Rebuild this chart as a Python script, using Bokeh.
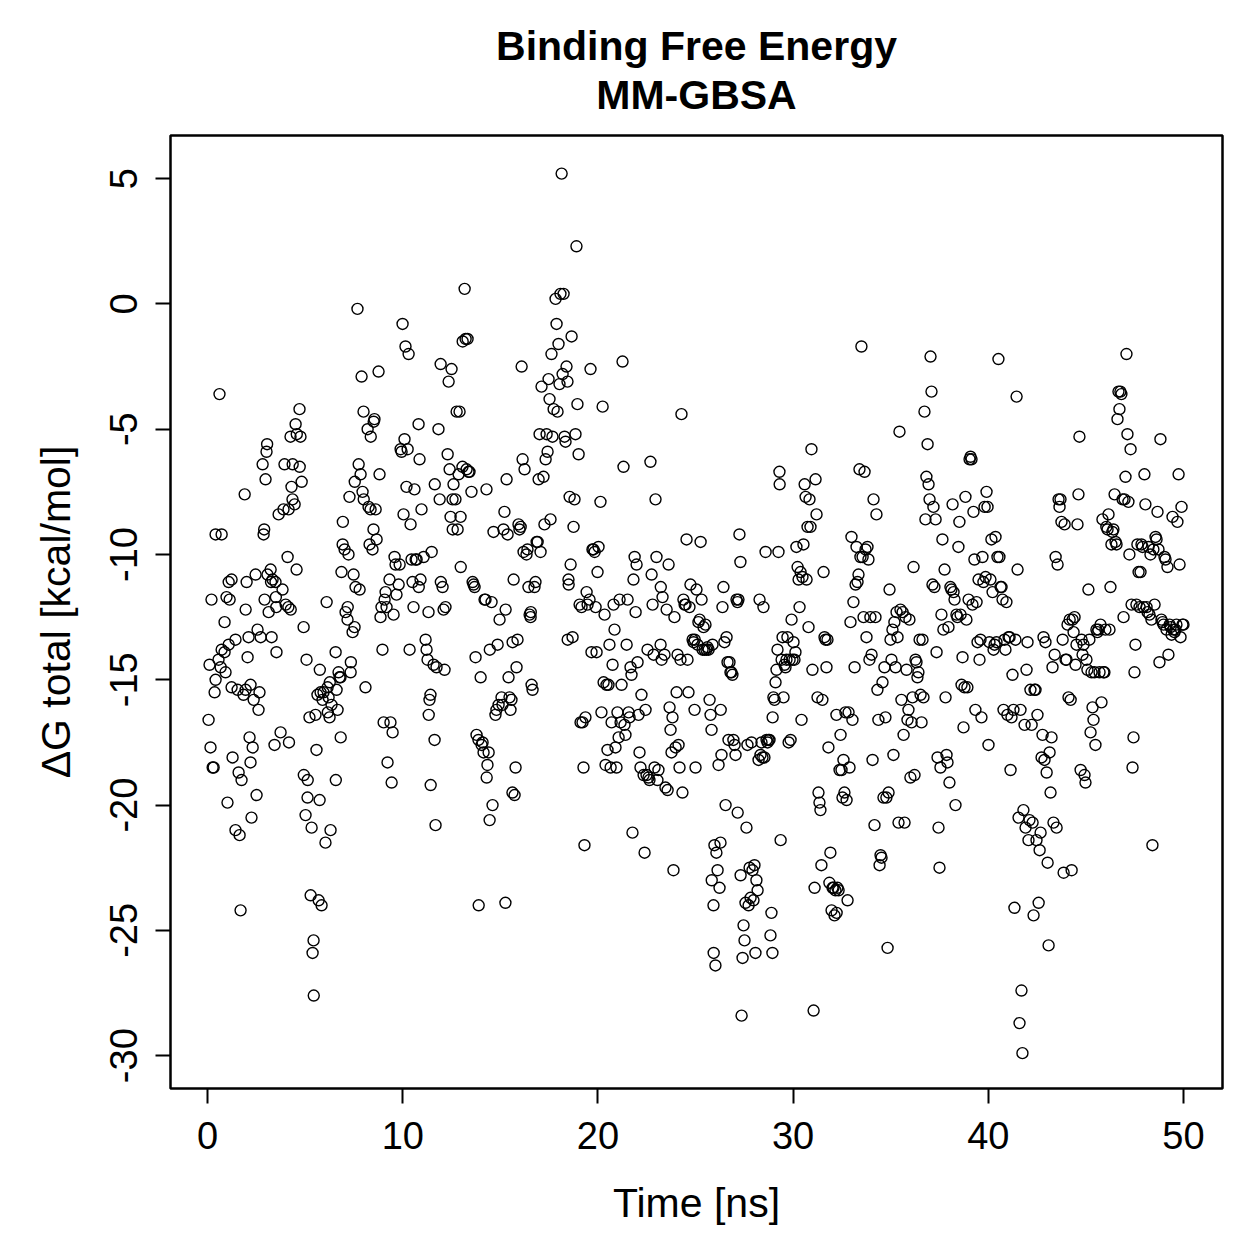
from bokeh.plotting import figure
from bokeh.models import ColumnDataSource, FixedTicker, Title
from bokeh.embed import file_html
from bokeh.resources import INLINE

# MM-GBSA binding free energy per frame: (time [ns], dG total [kcal/mol])
frames_00_05 = [
    (0.05, -16.6), (0.10, -14.4), (0.15, -17.7), (0.20, -11.8), (0.26, -18.5), (0.31, -18.5),
    (0.36, -15.5), (0.41, -9.2), (0.41, -15.0), (0.56, -14.2), (0.61, -3.6), (0.67, -14.5),
    (0.72, -9.2), (0.72, -13.8), (0.87, -13.9), (0.87, -12.7), (0.92, -14.7), (0.97, -11.7),
    (1.02, -19.9), (1.08, -11.1), (1.08, -13.6), (1.13, -11.8), (1.23, -11.0), (1.23, -15.3),
    (1.28, -18.1), (1.43, -13.4), (1.43, -21.0), (1.54, -15.4), (1.59, -18.7), (1.64, -21.2),
    (1.69, -24.2), (1.74, -19.0), (1.84, -15.6), (1.90, -7.6), (1.95, -15.4), (1.95, -12.2),
    (2.00, -11.1), (2.05, -14.1), (2.10, -13.3), (2.15, -17.3), (2.20, -15.2), (2.20, -18.3),
    (2.25, -20.5), (2.31, -17.7), (2.36, -15.8), (2.46, -10.8), (2.51, -19.6), (2.56, -13.0),
    (2.61, -16.2), (2.66, -15.5),
    (2.72, -13.3), (2.82, -6.4), (2.87, -9.2), (2.90, -9.0), (2.92, -11.8), (2.97, -7.0),
    (3.02, -5.9), (3.05, -5.6), (3.07, -10.8), (3.13, -12.3), (3.23, -10.6), (3.25, -11.1),
    (3.28, -13.3), (3.33, -11.0), (3.43, -17.6), (3.48, -11.1), (3.50, -11.7), (3.52, -12.1),
    (3.53, -13.9), (3.64, -8.4), (3.74, -17.1), (3.84, -11.4), (3.89, -8.2), (3.94, -6.4),
    (4.00, -12.0), (4.10, -10.1), (4.14, -12.1), (4.15, -8.2), (4.17, -17.5), (4.25, -5.3),
    (4.26, -12.2), (4.30, -7.3), (4.35, -7.8), (4.36, -6.4), (4.46, -8.0), (4.51, -4.8),
    (4.56, -10.6), (4.57, -5.2), (4.71, -4.2), (4.72, -6.5), (4.76, -5.3), (4.82, -7.1),
    (4.92, -12.9), (4.93, -18.8),
]

frames_05_10 = [
    (5.02, -20.4), (5.07, -14.2), (5.12, -19.7), (5.13, -19.0), (5.22, -16.5), (5.28, -23.6),
    (5.33, -20.9), (5.38, -25.9), (5.43, -25.4), (5.44, -27.6), (5.53, -16.4), (5.58, -17.8),
    (5.63, -15.6), (5.69, -23.8), (5.74, -19.8), (5.75, -14.6), (5.79, -15.5), (5.84, -24.0),
    (5.89, -15.8), (5.94, -15.5), (6.04, -21.5), (6.10, -11.9), (6.15, -15.3), (6.16, -16.3),
    (6.20, -15.7), (6.25, -16.5), (6.26, -15.1), (6.30, -21.0), (6.35, -16.0), (6.56, -13.9),
    (6.57, -19.0), (6.61, -15.4), (6.66, -16.2), (6.71, -14.7), (6.76, -14.9), (6.81, -14.9),
    (6.82, -17.3), (6.86, -10.7), (6.92, -9.6), (6.93, -8.7), (7.02, -9.8), (7.07, -12.3),
    (7.17, -12.6), (7.18, -12.1), (7.22, -10.0), (7.27, -7.7), (7.33, -14.7), (7.34, -14.3),
    (7.43, -13.1), (7.48, -10.8), (7.53, -12.9),
    (7.54, -7.1), (7.58, -11.3), (7.68, -0.2), (7.74, -6.4), (7.79, -11.4), (7.84, -6.8),
    (7.89, -2.9), (7.94, -7.5), (7.99, -4.3), (8.00, -7.8), (8.09, -15.3), (8.20, -5.0),
    (8.25, -8.1), (8.30, -9.6), (8.35, -8.2), (8.36, -5.3), (8.45, -9.8), (8.50, -9.0),
    (8.51, -4.7), (8.55, -4.6), (8.61, -8.2), (8.66, -9.4), (8.76, -2.7), (8.81, -6.8),
    (8.86, -12.5), (8.91, -12.1), (8.96, -13.8), (9.02, -16.7), (9.07, -11.8), (9.12, -11.5),
    (9.17, -12.1), (9.22, -18.3), (9.32, -11.0), (9.37, -16.7), (9.43, -19.1), (9.48, -17.1),
    (9.53, -12.4), (9.58, -10.1), (9.63, -10.4), (9.68, -11.6), (9.79, -11.2), (9.84, -10.4),
    (9.89, -5.8), (9.94, -5.9), (9.99, -0.8),
]

frames_10_15 = [
    (10.04, -8.4), (10.09, -5.4), (10.14, -1.7), (10.19, -7.3), (10.25, -5.8), (10.30, -2.0),
    (10.35, -13.8), (10.40, -8.8), (10.45, -10.2), (10.50, -11.1), (10.55, -12.1), (10.60, -7.4),
    (10.66, -10.2), (10.71, -10.2), (10.81, -4.8), (10.82, -11.3), (10.86, -6.2), (10.91, -11.0),
    (10.96, -8.2), (11.07, -10.1), (11.17, -13.4), (11.22, -13.8), (11.27, -14.2), (11.32, -12.3),
    (11.33, -16.4), (11.37, -15.8), (11.42, -15.6), (11.43, -19.2), (11.48, -9.9), (11.58, -14.4),
    (11.63, -17.4), (11.64, -7.2), (11.68, -20.8), (11.73, -14.5), (11.83, -5.0), (11.89, -7.8),
    (11.94, -2.4), (11.95, -11.1), (12.04, -11.3), (12.09, -12.2), (12.14, -14.6), (12.19, -12.1),
    (12.30, -6.0), (12.35, -3.1),
    (12.40, -6.6), (12.45, -8.5), (12.50, -2.6), (12.55, -7.8), (12.56, -9.0), (12.60, -7.2),
    (12.70, -7.8), (12.76, -4.3), (12.81, -9.0), (12.86, -6.8), (12.91, -4.3), (12.96, -8.5),
    (12.97, -10.5), (13.06, -6.5), (13.07, -1.5), (13.17, 0.6), (13.22, -1.4), (13.27, -6.6),
    (13.32, -1.4), (13.37, -6.7), (13.42, -6.7), (13.52, -7.5), (13.58, -11.1), (13.63, -11.2),
    (13.68, -11.3), (13.73, -14.1), (13.78, -17.2), (13.88, -17.4), (13.89, -24.0), (13.99, -14.9),
    (14.04, -17.6), (14.09, -17.5), (14.14, -17.9), (14.19, -11.8), (14.24, -11.8), (14.29, -7.4),
    (14.30, -18.9), (14.34, -18.4), (14.40, -17.9), (14.45, -20.6), (14.46, -13.8), (14.55, -11.9),
    (14.60, -20.0), (14.65, -9.1), (14.75, -16.4), (14.80, -16.2), (14.86, -13.6), (14.91, -16.0),
    (14.96, -12.6),
]

frames_15_20 = [
    (15.06, -15.7), (15.11, -16.0), (15.16, -9.0), (15.21, -8.3), (15.26, -23.9), (15.27, -12.2),
    (15.32, -7.0), (15.37, -9.2), (15.42, -14.9), (15.47, -15.7), (15.52, -16.2), (15.57, -15.8),
    (15.62, -19.5), (15.63, -13.5), (15.68, -11.0), (15.73, -19.6), (15.78, -18.5), (15.83, -14.5),
    (15.88, -13.4), (15.93, -8.8), (15.98, -9.0), (16.04, -8.9), (16.09, -2.5), (16.14, -6.2),
    (16.19, -9.9), (16.24, -6.6), (16.34, -10.0), (16.39, -9.8), (16.44, -11.3), (16.50, -12.4),
    (16.55, -12.5), (16.56, -12.3), (16.60, -15.2), (16.65, -15.4), (16.75, -11.3), (16.80, -11.1),
    (16.86, -9.5), (16.91, -9.5), (16.96, -7.0), (17.01, -5.2), (17.06, -9.9), (17.11, -3.3),
    (17.21, -6.9), (17.26, -8.8), (17.32, -6.2), (17.37, -5.2), (17.42, -5.9), (17.47, -3.0),
    (17.52, -3.8), (17.57, -8.6), (17.62, -2.0),
    (17.67, -5.3), (17.73, -4.2), (17.83, 0.2), (17.88, -0.8), (17.93, -4.3), (17.98, -1.6),
    (18.03, -3.2), (18.08, 0.4), (18.14, 5.2), (18.19, -2.8), (18.24, 0.4), (18.29, -5.3),
    (18.34, -5.5), (18.39, -2.5), (18.44, -3.1), (18.45, -13.4), (18.49, -11.0), (18.50, -11.2),
    (18.55, -7.7), (18.60, -10.4), (18.65, -1.3), (18.70, -13.3), (18.75, -8.9), (18.80, -7.8),
    (18.85, -5.2), (18.90, 2.3), (18.95, -4.0), (19.01, -6.0), (19.06, -12.0), (19.11, -16.7),
    (19.16, -12.1), (19.21, -16.7), (19.26, -18.5), (19.31, -21.6), (19.36, -16.5), (19.42, -11.5),
    (19.47, -12.0), (19.57, -11.8), (19.62, -2.6), (19.67, -13.9), (19.72, -9.8), (19.77, -9.8),
    (19.83, -9.9), (19.88, -12.1), (19.93, -13.9), (19.98, -10.7),
]

frames_20_25 = [
    (20.03, -9.7), (20.13, -7.9), (20.18, -16.3), (20.24, -4.1), (20.29, -15.1), (20.34, -12.4),
    (20.39, -18.4), (20.44, -15.2), (20.49, -17.8), (20.54, -15.2), (20.59, -13.6), (20.65, -18.5),
    (20.70, -16.7), (20.75, -14.4), (20.80, -12.0), (20.85, -13.0), (20.90, -17.7), (20.95, -18.5),
    (21.00, -16.3), (21.06, -17.3), (21.11, -11.8), (21.16, -16.7), (21.21, -15.2), (21.26, -2.3),
    (21.31, -6.5), (21.36, -16.8), (21.41, -17.2), (21.47, -13.6), (21.52, -11.8), (21.57, -16.3),
    (21.62, -16.5), (21.67, -14.5), (21.72, -14.8), (21.77, -21.1), (21.82, -11.0), (21.88, -10.1),
    (21.93, -12.3), (21.98, -10.4), (22.03, -14.3), (22.08, -16.4), (22.13, -17.9), (22.18, -18.5),
    (22.23, -15.6), (22.34, -18.8), (22.39, -21.9), (22.44, -16.2), (22.49, -18.8),
    (22.54, -13.8), (22.59, -18.9), (22.64, -19.0), (22.69, -6.3), (22.75, -10.8), (22.80, -12.0),
    (22.85, -14.0), (22.90, -18.5), (22.95, -7.8), (23.00, -10.1), (23.05, -19.0), (23.10, -18.6),
    (23.21, -13.6), (23.22, -11.3), (23.26, -14.2), (23.31, -11.7), (23.41, -14.0), (23.46, -19.3),
    (23.52, -12.2), (23.57, -19.4), (23.62, -10.4), (23.67, -16.1), (23.72, -17.0), (23.77, -17.9),
    (23.82, -16.5), (23.87, -22.6), (23.92, -12.5), (23.98, -17.7), (24.03, -15.5), (24.08, -14.0),
    (24.13, -17.6), (24.18, -18.5), (24.23, -14.2), (24.28, -4.4), (24.33, -19.5), (24.38, -11.8),
    (24.44, -12.0), (24.49, -12.0), (24.54, -9.4), (24.59, -14.2), (24.64, -15.5), (24.69, -12.1),
    (24.74, -11.2), (24.85, -13.4), (24.90, -13.5), (24.95, -16.2), (24.96, -13.4), (25.00, -18.5),
]

frames_25_30 = [
    (25.05, -11.4), (25.10, -13.6), (25.15, -12.7), (25.21, -12.6), (25.26, -9.5), (25.31, -11.8),
    (25.36, -13.8), (25.41, -12.9), (25.46, -13.8), (25.51, -12.8), (25.56, -13.8), (25.61, -13.7),
    (25.67, -13.8), (25.72, -15.8), (25.77, -16.4), (25.82, -17.0), (25.83, -23.0), (25.87, -13.6),
    (25.92, -24.0), (25.93, -25.9), (25.97, -21.6), (26.02, -26.4), (26.07, -21.9), (26.13, -22.6),
    (26.18, -18.4), (26.23, -23.3), (26.28, -21.5), (26.29, -16.2), (26.33, -18.0), (26.38, -12.1),
    (26.43, -11.3), (26.48, -13.5), (26.54, -20.0), (26.59, -13.3), (26.64, -14.3), (26.69, -17.4),
    (26.74, -14.3), (26.79, -14.7), (26.84, -14.7), (26.89, -14.8), (26.94, -17.4), (27.00, -17.6),
    (27.05, -18.0), (27.10, -11.8), (27.15, -11.9), (27.16, -20.3), (27.20, -11.8), (27.25, -9.2),
    (27.30, -10.3), (27.31, -22.8),
    (27.36, -28.4), (27.41, -26.1), (27.46, -24.8), (27.51, -25.4), (27.56, -23.9), (27.61, -20.9),
    (27.66, -17.6), (27.72, -24.0), (27.77, -22.5), (27.82, -23.7), (27.87, -17.5), (27.92, -22.6),
    (27.97, -23.8), (28.02, -22.4), (28.07, -25.9), (28.12, -23.0), (28.18, -23.4), (28.23, -18.2),
    (28.28, -11.8), (28.33, -18.0), (28.38, -17.5), (28.43, -18.1), (28.48, -12.1), (28.53, -18.1),
    (28.59, -9.9), (28.64, -17.4), (28.69, -17.5), (28.74, -17.4), (28.79, -17.4), (28.84, -25.2),
    (28.89, -24.3), (28.94, -25.9), (28.95, -16.5), (28.99, -15.7), (29.05, -15.8), (29.10, -15.1),
    (29.15, -14.6), (29.20, -13.8), (29.25, -9.9), (29.30, -6.7), (29.31, -7.2), (29.36, -21.4),
    (29.41, -14.2), (29.46, -13.3), (29.51, -15.7), (29.56, -14.4), (29.61, -14.5), (29.66, -14.2),
    (29.71, -13.3), (29.77, -17.5), (29.82, -14.2), (29.87, -17.4), (29.92, -12.6), (29.97, -14.2),
]

frames_30_35 = [
    (30.02, -13.5), (30.07, -14.2), (30.12, -13.9), (30.17, -9.7), (30.23, -10.5), (30.28, -11.0),
    (30.33, -12.1), (30.38, -10.7), (30.43, -16.6), (30.48, -10.9), (30.53, -9.6), (30.59, -7.2),
    (30.64, -7.7), (30.69, -11.0), (30.74, -8.9), (30.79, -12.9), (30.84, -7.8), (30.89, -8.9),
    (30.94, -5.8), (30.99, -14.6), (31.05, -28.2), (31.10, -23.3), (31.15, -7.0), (31.20, -8.4),
    (31.25, -15.7), (31.30, -19.5), (31.35, -19.9), (31.40, -20.2), (31.45, -22.4), (31.50, -15.8),
    (31.56, -10.7), (31.61, -13.3), (31.66, -13.4), (31.71, -14.5), (31.76, -13.4), (31.81, -17.7),
    (31.86, -23.1), (31.91, -21.9), (31.97, -24.2), (32.02, -23.3), (32.07, -23.3), (32.12, -24.4),
    (32.17, -23.4), (32.22, -16.4), (32.23, -24.3), (32.27, -23.3), (32.33, -23.4), (32.38, -18.6),
    (32.43, -17.2), (32.48, -18.6), (32.53, -19.7), (32.58, -18.2),
    (32.63, -19.5), (32.68, -16.3), (32.74, -19.8), (32.79, -23.8), (32.84, -16.3), (32.89, -18.5),
    (32.94, -12.7), (32.99, -9.3), (33.04, -16.6), (33.09, -11.9), (33.15, -14.5), (33.20, -11.2),
    (33.25, -9.7), (33.30, -11.1), (33.35, -10.8), (33.40, -6.6), (33.45, -10.1), (33.50, -1.7),
    (33.56, -10.1), (33.61, -12.5), (33.66, -6.7), (33.71, -9.8), (33.76, -13.3), (33.81, -9.7),
    (33.86, -10.2), (33.91, -14.2), (33.96, -12.5), (34.02, -14.0), (34.07, -18.2), (34.12, -7.8),
    (34.17, -20.8), (34.22, -12.5), (34.27, -8.4), (34.32, -15.4), (34.37, -16.6), (34.43, -22.4),
    (34.48, -22.0), (34.53, -22.1), (34.58, -15.1), (34.63, -19.7), (34.68, -14.5), (34.73, -16.5),
    (34.78, -19.7), (34.84, -25.7), (34.89, -19.5), (34.94, -11.4), (34.99, -13.4),
]

frames_35_40 = [
    (35.04, -14.2), (35.09, -13.0), (35.14, -18.0), (35.19, -12.7), (35.25, -14.5), (35.30, -12.3),
    (35.35, -13.3), (35.40, -20.7), (35.45, -5.1), (35.50, -12.2), (35.55, -15.8), (35.61, -12.3),
    (35.66, -17.2), (35.71, -20.7), (35.76, -12.5), (35.81, -14.6), (35.86, -16.6), (35.91, -16.2),
    (35.96, -12.6), (36.01, -18.9), (36.07, -16.7), (36.12, -15.7), (36.17, -10.5), (36.22, -18.8),
    (36.27, -14.2), (36.32, -14.3), (36.37, -14.9), (36.42, -14.7), (36.48, -13.4), (36.53, -15.6),
    (36.58, -16.7), (36.63, -13.4), (36.68, -15.7), (36.73, -4.3), (36.78, -8.6), (36.83, -6.9),
    (36.89, -5.6), (36.94, -7.2), (36.99, -7.8), (37.04, -2.1), (37.09, -3.5), (37.14, -11.2),
    (37.19, -8.1), (37.24, -11.3), (37.30, -8.6), (37.35, -13.9), (37.40, -18.1), (37.45, -20.9),
    (37.50, -22.5),
    (37.55, -18.5), (37.60, -12.4), (37.65, -9.4), (37.70, -13.0), (37.76, -10.6), (37.81, -15.7),
    (37.86, -18.0), (37.91, -18.3), (37.96, -12.9), (38.01, -19.1), (38.06, -11.3), (38.11, -11.4),
    (38.17, -8.0), (38.22, -11.5), (38.27, -11.8), (38.32, -20.0), (38.37, -12.4), (38.42, -12.5),
    (38.47, -9.7), (38.52, -8.7), (38.58, -12.4), (38.63, -15.2), (38.68, -14.1), (38.73, -16.9),
    (38.78, -15.3), (38.83, -7.7), (38.88, -12.6), (38.93, -15.3), (38.99, -11.8), (39.04, -6.2),
    (39.09, -6.1), (39.14, -6.2), (39.19, -12.0), (39.24, -8.3), (39.29, -10.2), (39.34, -16.2),
    (39.40, -11.9), (39.45, -13.5), (39.50, -11.0), (39.55, -14.2), (39.60, -13.4), (39.65, -16.5),
    (39.70, -10.1), (39.75, -11.1), (39.81, -8.1), (39.86, -10.9), (39.91, -7.5), (39.96, -8.1),
]

frames_40_45 = [
    (40.01, -17.6), (40.06, -13.5), (40.11, -11.0), (40.16, -9.4), (40.22, -11.5), (40.27, -13.8),
    (40.32, -13.6), (40.37, -9.3), (40.42, -13.5), (40.47, -10.1), (40.52, -2.2), (40.57, -10.1),
    (40.63, -11.3), (40.68, -11.3), (40.73, -11.8), (40.78, -16.2), (40.83, -13.4), (40.88, -13.8),
    (40.93, -11.9), (40.98, -16.4), (41.04, -13.3), (41.09, -13.3), (41.14, -18.6), (41.19, -16.5),
    (41.24, -14.8), (41.29, -16.2), (41.34, -24.1), (41.39, -13.4), (41.45, -3.7), (41.50, -10.6),
    (41.55, -20.5), (41.60, -28.7), (41.65, -16.2), (41.70, -27.4), (41.75, -29.9), (41.80, -20.2),
    (41.86, -16.8), (41.91, -20.9), (41.96, -14.6), (42.01, -13.5), (42.06, -21.4), (42.11, -20.6),
    (42.16, -15.4), (42.22, -16.8), (42.27, -20.7), (42.32, -24.4), (42.37, -15.4), (42.42, -15.4),
    (42.47, -21.4), (42.52, -16.4), (42.58, -23.9), (42.63, -21.8), (42.68, -21.1),
    (42.73, -18.1), (42.78, -17.2), (42.83, -13.3), (42.88, -18.2), (42.93, -13.5), (42.99, -18.7),
    (43.04, -22.3), (43.09, -25.6), (43.14, -17.9), (43.19, -19.5), (43.24, -17.3), (43.29, -14.5),
    (43.34, -20.7), (43.40, -14.0), (43.45, -10.1), (43.50, -20.9), (43.55, -10.4), (43.60, -7.8),
    (43.65, -8.1), (43.70, -7.8), (43.75, -8.7), (43.81, -13.4), (43.86, -22.7), (43.91, -8.8),
    (43.96, -14.2), (44.01, -14.2), (44.06, -12.8), (44.11, -15.7), (44.17, -12.6), (44.22, -15.8),
    (44.27, -22.6), (44.32, -12.6), (44.37, -13.1), (44.42, -12.5), (44.47, -14.4), (44.52, -13.6),
    (44.57, -8.8), (44.62, -7.6), (44.67, -5.3), (44.73, -18.6), (44.78, -13.4), (44.83, -14.0),
    (44.88, -13.6), (44.93, -18.8), (44.98, -19.1),
]

frames_45_50 = [
    (45.03, -14.2), (45.08, -14.6), (45.13, -11.4), (45.18, -13.4), (45.24, -17.1), (45.29, -14.7),
    (45.34, -16.1), (45.39, -16.6), (45.44, -14.7), (45.49, -17.6), (45.54, -13.0), (45.59, -13.1),
    (45.64, -13.0), (45.70, -14.7), (45.75, -12.8), (45.80, -15.9), (45.85, -8.6), (45.90, -14.7),
    (45.95, -14.7), (46.00, -13.0), (46.05, -8.9), (46.11, -9.0), (46.16, -8.4), (46.21, -13.0),
    (46.26, -11.3), (46.31, -9.6), (46.36, -9.1), (46.41, -9.0), (46.47, -7.6), (46.52, -9.5),
    (46.57, -9.6), (46.62, -4.6), (46.67, -3.5), (46.72, -4.2), (46.77, -3.5), (46.82, -3.6),
    (46.88, -7.8), (46.93, -12.5), (46.98, -7.8), (47.03, -6.9), (47.08, -2.0), (47.13, -5.2),
    (47.18, -7.9), (47.23, -10.0), (47.29, -5.8), (47.34, -12.0), (47.39, -18.5), (47.44, -17.3),
    (47.49, -14.7), (47.54, -13.6),
    (47.59, -12.0), (47.64, -9.6), (47.70, -10.7), (47.75, -12.1), (47.80, -10.7), (47.85, -9.6),
    (47.90, -9.7), (47.95, -12.1), (48.00, -6.8), (48.05, -8.0), (48.11, -12.1), (48.16, -12.3),
    (48.21, -9.7), (48.26, -12.4), (48.31, -10.0), (48.36, -12.6), (48.41, -21.6), (48.46, -9.8),
    (48.52, -12.0), (48.57, -9.3), (48.62, -9.4), (48.67, -8.3), (48.72, -9.8), (48.77, -14.3),
    (48.82, -5.4), (48.87, -12.6), (48.93, -12.7), (48.98, -12.8), (49.03, -10.1), (49.08, -10.2),
    (49.13, -13.0), (49.18, -10.5), (49.23, -14.0), (49.29, -12.8), (49.34, -12.9), (49.39, -13.2),
    (49.44, -8.5), (49.49, -13.0), (49.54, -13.1), (49.59, -13.0), (49.64, -12.8), (49.69, -8.7),
    (49.75, -6.8), (49.80, -10.4), (49.85, -13.3), (49.90, -8.1), (49.95, -12.8), (50.00, -12.8),
]

x_ticks = [0, 10, 20, 30, 40, 50]
y_ticks = [5, 0, -5, -10, -15, -20, -25, -30]
y_tick_labels = ["5", "0", "-5", "-10", "-15", "-20", "-25", "-30"]

all_frames = (frames_00_05 + frames_05_10 + frames_10_15 + frames_15_20 + frames_20_25
              + frames_25_30 + frames_30_35 + frames_35_40 + frames_40_45 + frames_45_50)
source = ColumnDataSource(data=dict(
    time=[f[0] for f in all_frames],
    dg=[f[1] for f in all_frames],
))

FONT = "Liberation Sans"

p = figure(
    width=1259, height=1259,
    x_range=(-1.9, 52.0), y_range=(-31.31, 6.72),
    output_backend="svg", toolbar_location=None,
    min_border_left=170, min_border_right=37,
    min_border_top=135, min_border_bottom=171,
    background_fill_color="white", border_fill_color="white",
)
p.title = None

p.add_layout(Title(text="MM-GBSA", align="center", text_font=FONT,
                   text_font_size="41px", text_font_style="bold",
                   text_color="black", standoff=36, offset=0), "above")
p.add_layout(Title(text="Binding Free Energy", align="center", text_font=FONT,
                   text_font_size="41px", text_font_style="bold",
                   text_color="black", standoff=-34, offset=0), "above")

p.scatter("time", "dg", source=source, marker="circle", size=11,
          fill_color=None, line_color="black", line_width=1.4)

p.grid.visible = False
p.outline_line_color = "black"
p.outline_line_width = 2.5

for ax in (p.xaxis[0], p.yaxis[0]):
    ax.axis_line_color = None
    ax.major_tick_line_color = "black"
    ax.major_tick_line_width = 2
    ax.major_tick_in = 0
    ax.major_tick_out = 15
    ax.minor_tick_line_color = None
    ax.major_label_text_font = FONT
    ax.major_label_text_font_size = "38px"
    ax.major_label_text_color = "black"
    ax.axis_label_text_font = FONT
    ax.axis_label_text_font_size = "41px"
    ax.axis_label_text_font_style = "normal"
    ax.axis_label_text_color = "black"

p.xaxis.ticker = FixedTicker(ticks=x_ticks)
p.yaxis.ticker = FixedTicker(ticks=y_ticks)
p.yaxis.major_label_overrides = {t: s for t, s in zip(y_ticks, y_tick_labels)}
p.yaxis.major_label_orientation = "vertical"

p.xaxis.axis_label = "Time [ns]"
p.yaxis.axis_label = "ΔG total [kcal/mol]"
p.xaxis.major_label_standoff = 18
p.yaxis.major_label_standoff = 18
p.xaxis.axis_label_standoff = 28
p.yaxis.axis_label_standoff = 29

open("out.html", "w").write(file_html(p, INLINE))
